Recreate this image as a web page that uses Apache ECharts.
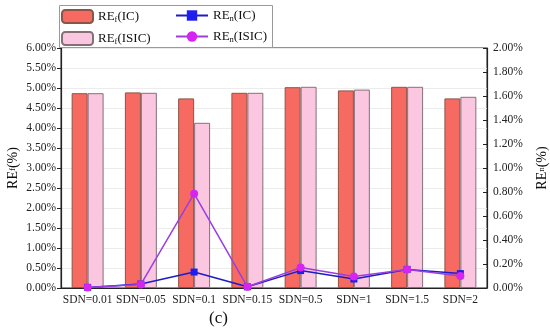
<!DOCTYPE html>
<html><head><meta charset="utf-8">
<script src="https://cdn.jsdelivr.net/npm/echarts@6/dist/echarts.min.js"></script>
<style>html,body{margin:0;padding:0;background:#fff}#c{width:550px;height:336px}</style>
</head><body><div id="c"></div>
<script>
const categories = ['SDN=0.01','SDN=0.05','SDN=0.1','SDN=0.15','SDN=0.5','SDN=1','SDN=1.5','SDN=2'];
const refIC = [4.87, 4.89, 4.74, 4.88, 5.02, 4.94, 5.03, 4.74];
const refISIC = [4.87, 4.88, 4.13, 4.88, 5.03, 4.96, 5.03, 4.78];
const renIC = [0.005, 0.033, 0.133, 0.01, 0.145, 0.075, 0.155, 0.12];
const renISIC = [0.005, 0.03, 0.786, 0.01, 0.17, 0.095, 0.155, 0.10];
const leftTicks = {min: 0, max: 6, interval: 0.5};
const rightTicks = {min: 0, max: 2, interval: 0.2};

const FONT = '"Liberation Serif","Times New Roman",serif';
const rich = {
  a: {fontFamily: FONT, fontSize: 13, color: '#111'},
  s: {fontFamily: FONT, fontSize: 8.5, color: '#111', padding: [6, 0, 0, 0]}
};
const chart = echarts.init(document.getElementById('c'), null, {renderer: 'canvas'});
chart.setOption({
  animation: false,
  backgroundColor: '#fff',
  grid: {left: 61, right: 63, top: 48, bottom: 48, outerBoundsMode: 'none', containLabel: false,
         show: true, borderColor: '#222', borderWidth: 1, backgroundColor: 'transparent'},
  title: {text: '(c)', left: 204, top: 305, textStyle: {fontFamily: FONT, fontSize: 17, fontWeight: 'normal', color: '#111'}},
  graphic: [{type: 'rect', shape: {x: 59.5, y: 5.5, width: 213, height: 42}, style: {fill: 'none', stroke: '#999', lineWidth: 1}, z: 1}],
  legend: [
    {orient: 'vertical', left: 61, top: 9, itemWidth: 31, itemHeight: 13, itemGap: 7, padding: 0,
     data: ['RE_f(IC)', 'RE_f(ISIC)'],
     formatter: n => '{a|RE}{s|f}{a|' + n.slice(4) + '}', textStyle: {rich: rich}},
    {orient: 'vertical', left: 175, top: 9, itemWidth: 32, itemHeight: 13, itemGap: 7, padding: 0,
     data: ['RE_n(IC)', 'RE_n(ISIC)'],
     formatter: n => '{a|RE}{s|n}{a|' + n.slice(4) + '}', textStyle: {rich: rich}}
  ],
  xAxis: {
    type: 'category', data: categories, boundaryGap: true,
    axisLine: {lineStyle: {color: '#222', width: 1.2}},
    axisTick: {show: false},
    axisLabel: {fontFamily: FONT, fontSize: 11.5, color: '#222', margin: 6, interval: 0}
  },
  yAxis: [
    {type: 'value', min: leftTicks.min, max: leftTicks.max, interval: leftTicks.interval,
     name: '{a|RE}{s|f}{a|(%)}', nameLocation: 'middle', nameGap: 41, nameRotate: 90, nameMoveOverlap: false,
     nameTextStyle: {rich: {a: {fontFamily: FONT, fontSize: 14, color: '#111'}, s: {fontFamily: FONT, fontSize: 9, color: '#111'}}},
     axisLine: {show: true, lineStyle: {color: '#222', width: 1.2}},
     axisTick: {show: true, inside: false, length: 4, lineStyle: {color: '#222'}},
     axisLabel: {fontFamily: FONT, fontSize: 11.5, color: '#222', margin: 5, formatter: v => v.toFixed(2) + '%'},
     splitLine: {show: true, lineStyle: {color: '#ececec', width: 1}}},
    {type: 'value', position: 'right', min: rightTicks.min, max: rightTicks.max, interval: rightTicks.interval,
     name: '{a|RE}{s|n}{a|(%)}', nameLocation: 'middle', nameGap: 48, nameRotate: 90, nameMoveOverlap: false,
     nameTextStyle: {rich: {a: {fontFamily: FONT, fontSize: 14, color: '#111'}, s: {fontFamily: FONT, fontSize: 9, color: '#111'}}},
     axisLine: {show: true, lineStyle: {color: '#222', width: 1.2}},
     axisTick: {show: true, inside: true, length: 4, lineStyle: {color: '#222'}},
     axisLabel: {fontFamily: FONT, fontSize: 11.5, color: '#222', margin: 6, formatter: v => v.toFixed(2) + '%'},
     splitLine: {show: false}}
  ],
  series: [
    {name: 'RE_f(IC)', type: 'bar', yAxisIndex: 0, data: refIC, barWidth: '30%', barGap: '0%',
     itemStyle: {color: '#f76a62', borderColor: '#8a5446', borderWidth: 1}},
    {name: 'RE_f(ISIC)', type: 'bar', yAxisIndex: 0, data: refISIC, barWidth: '30%', barGap: '0%',
     itemStyle: {color: '#fbc6df', borderColor: '#857078', borderWidth: 1}},
    {name: 'RE_n(IC)', type: 'line', yAxisIndex: 1, data: renIC, symbol: 'rect', symbolSize: 7,
     lineStyle: {color: '#1c1cc8', width: 1.5}, itemStyle: {color: '#1e1ef0'}, z: 5},
    {name: 'RE_n(ISIC)', type: 'line', yAxisIndex: 1, data: renISIC, symbol: 'circle', symbolSize: 8,
     lineStyle: {color: '#9a3ee0', width: 1.5}, itemStyle: {color: '#d624f2'}, z: 6}
  ]
});
</script></body></html>
